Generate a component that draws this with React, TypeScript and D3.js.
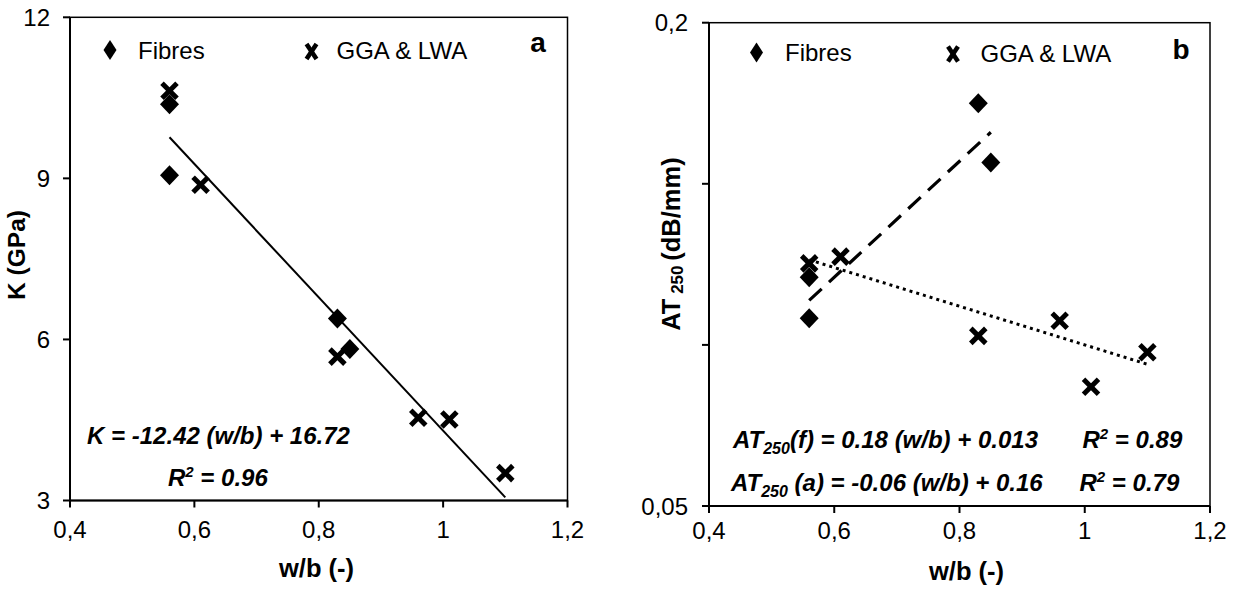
import React from "react";
import * as d3 from "d3";

// ---------- data ----------
const xTickValues = [0.4, 0.6, 0.8, 1.0, 1.2];
const xTickLabels = ["0,4", "0,6", "0,8", "1", "1,2"];

const kTickValues = [3, 6, 9, 12];
const kTickLabels = ["3", "6", "9", "12"];

const atTickValues = [0.05, 0.1, 0.15, 0.2];
const atTickLabels = ["0,05", "", "", "0,2"];

const fibresWB = [0.56, 0.56, 0.83, 0.85];
const fibresK = [10.38, 9.06, 6.39, 5.82];
const fibresAT = [0.121, 0.1083, 0.175, 0.1566];

const aggWB = [0.56, 0.61, 0.83, 0.96, 1.01, 1.1];
const aggK = [10.63, 8.88, 5.68, 4.54, 4.51, 3.51];
const aggAT = [0.1253, 0.1274, 0.1028, 0.1075, 0.087, 0.0977];

// trend lines as printed on the chart: [slope, intercept, xFrom, xTo]
const kTrend = [-12.42, 16.72, 0.56, 1.1];
const atFibresTrend = [0.18, 0.013, 0.56, 0.85];
const atAggTrend = [-0.06, 0.16, 0.56, 1.1];

const legendLabels = ["Fibres", "GGA & LWA"];

const FONT = "'Liberation Sans', Arial, Helvetica, sans-serif";

const Diamond = ({ cx, cy, w = 9.5, h = 10 }: any) => (
  <polygon
    points={`${cx},${cy - h} ${cx + w},${cy} ${cx},${cy + h} ${cx - w},${cy}`}
    fill="#000"
  />
);

const Cross = ({ cx, cy, w = 7.5, h = 7.5, sw = 5 }: any) => (
  <g stroke="#000" strokeWidth={sw} strokeLinecap="butt">
    <line x1={cx - w} y1={cy - h} x2={cx + w} y2={cy + h} />
    <line x1={cx - w} y1={cy + h} x2={cx + w} y2={cy - h} />
  </g>
);

function Frame({ x, y, xTicks, xLabels, yTicks, yLabels, xLabelY, yLabelX }: any) {
  const [x0, x1] = x.range();
  const [y0, y1] = y.range(); // y0 bottom, y1 top
  return (
    <g>
      <rect x={x0} y={y1} width={x1 - x0} height={y0 - y1} fill="none" stroke="#000" strokeWidth={1.5} />
      <line x1={x0} y1={y0} x2={x1} y2={y0} stroke="#000" strokeWidth={2} />
      <line x1={x0} y1={y0} x2={x0} y2={y1} stroke="#000" strokeWidth={2} />
      {xTicks.map((t: number, i: number) => (
        <g key={"x" + i}>
          <line x1={x(t)} x2={x(t)} y1={y0} y2={y0 + 7} stroke="#000" strokeWidth={2} />
          <text x={x(t)} y={xLabelY} textAnchor="middle" fontSize={24} fontFamily={FONT}>
            {xLabels[i]}
          </text>
        </g>
      ))}
      {yTicks.map((t: number, i: number) => (
        <g key={"y" + i}>
          <line x1={x0 - 7} x2={x0} y1={y(t)} y2={y(t)} stroke="#000" strokeWidth={2} />
          {yLabels[i] ? (
            <text x={yLabelX} y={y(t) + 8.5} textAnchor="end" fontSize={24} fontFamily={FONT}>
              {yLabels[i]}
            </text>
          ) : null}
        </g>
      ))}
    </g>
  );
}

export default function App() {
  // panel a scales
  const xa = d3.scaleLinear().domain([0.4, 1.2]).range([70, 567.5]);
  const ya = d3.scaleLinear().domain([3, 12]).range([500.5, 17.3]);
  // panel b scales
  const xb = d3.scaleLinear().domain([0.4, 1.2]).range([709, 1210]);
  const yb = d3.scaleLinear().domain([0.05, 0.2]).range([506, 22.7]);

  const trendPath = (xs: any, ys: any, t: number[]) => {
    const pts: [number, number][] = [
      [t[2], t[0] * t[2] + t[1]],
      [t[3], t[0] * t[3] + t[1]],
    ];
    return d3
      .line<[number, number]>()
      .x((d) => xs(d[0]))
      .y((d) => ys(d[1]))(pts) as string;
  };

  return (
    <svg
      width={1238}
      height={590}
      style={{ position: "absolute", left: 0, top: 0, background: "#fff" }}
      fontFamily={FONT}
    >
      <rect x={0} y={0} width={1238} height={590} fill="#fff" />

      {/* ---------------- Panel a ---------------- */}
      <Frame
        x={xa}
        y={ya}
        xTicks={xTickValues}
        xLabels={xTickLabels}
        yTicks={kTickValues}
        yLabels={kTickLabels}
        xLabelY={537.5}
        yLabelX={50}
      />
      <path d={trendPath(xa, ya, kTrend)} stroke="#000" strokeWidth={2} fill="none" />
      {fibresWB.map((v, i) => (
        <Diamond key={"fa" + i} cx={xa(v)} cy={ya(fibresK[i])} />
      ))}
      {aggWB.map((v, i) => (
        <Cross key={"ga" + i} cx={xa(v)} cy={ya(aggK[i])} />
      ))}
      {/* legend a */}
      <Diamond cx={110} cy={50} w={6.5} h={10} />
      <text x={138} y={58.5} fontSize={24} fontFamily={FONT}>{legendLabels[0]}</text>
      <Cross cx={311.5} cy={51.5} w={5} h={7.5} sw={4.5} />
      <text x={336.5} y={59} fontSize={24} fontFamily={FONT}>{legendLabels[1]}</text>
      <text x={538} y={52} textAnchor="middle" fontSize={28} fontWeight="bold" fontFamily={FONT}>a</text>
      {/* equation a */}
      <text x={218.5} y={444} textAnchor="middle" fontSize={24} fontWeight="bold" fontStyle="italic" fontFamily={FONT}>
        K = -12.42 (w/b) + 16.72
      </text>
      <text x={168} y={486} fontSize={24} fontWeight="bold" fontStyle="italic" fontFamily={FONT}>
        R<tspan fontSize={15} dy={-9}>2</tspan><tspan dy={9}> = 0.96</tspan>
      </text>
      {/* axis titles a */}
      <text x={316.5} y={577} textAnchor="middle" fontSize={25.5} fontWeight="bold" fontFamily={FONT}>w/b (-)</text>
      <text transform="translate(25,255) rotate(-90)" textAnchor="middle" fontSize={24.5} fontWeight="bold" fontFamily={FONT}>
        K (GPa)
      </text>

      {/* ---------------- Panel b ---------------- */}
      <Frame
        x={xb}
        y={yb}
        xTicks={xTickValues}
        xLabels={xTickLabels}
        yTicks={atTickValues}
        yLabels={atTickLabels}
        xLabelY={538.5}
        yLabelX={688}
      />
      <path
        d={trendPath(xb, yb, atFibresTrend)}
        stroke="#000"
        strokeWidth={3.2}
        strokeDasharray="17 10"
        fill="none"
      />
      <path
        d={trendPath(xb, yb, atAggTrend)}
        stroke="#000"
        strokeWidth={3}
        strokeDasharray="3 4"
        fill="none"
      />
      {fibresWB.map((v, i) => (
        <Diamond key={"fb" + i} cx={xb(v)} cy={yb(fibresAT[i])} />
      ))}
      {aggWB.map((v, i) => (
        <Cross key={"gb" + i} cx={xb(v)} cy={yb(aggAT[i])} />
      ))}
      {/* legend b */}
      <Diamond cx={756.5} cy={52.5} w={6.5} h={10} />
      <text x={785} y={61} fontSize={24} fontFamily={FONT}>{legendLabels[0]}</text>
      <Cross cx={953} cy={54} w={5} h={7.5} sw={4.5} />
      <text x={980.5} y={61.5} fontSize={24} fontFamily={FONT}>{legendLabels[1]}</text>
      <text x={1181} y={58.5} textAnchor="middle" fontSize={28} fontWeight="bold" fontFamily={FONT}>b</text>
      {/* equations b */}
      <text x={733} y={448} fontSize={24} fontWeight="bold" fontStyle="italic" fontFamily={FONT}>
        AT<tspan fontSize={16} dy={6}>250</tspan><tspan dy={-6}>(f)  = 0.18 (w/b) + 0.013</tspan>
      </text>
      <text x={1082.5} y={448} fontSize={24} fontWeight="bold" fontStyle="italic" fontFamily={FONT}>
        R<tspan fontSize={15} dy={-9}>2</tspan><tspan dy={9}> = 0.89</tspan>
      </text>
      <text x={731} y={491} fontSize={24} fontWeight="bold" fontStyle="italic" fontFamily={FONT}>
        AT<tspan fontSize={16} dy={6}>250</tspan><tspan dy={-6}> (a) = -0.06 (w/b) + 0.16</tspan>
      </text>
      <text x={1079.5} y={491} fontSize={24} fontWeight="bold" fontStyle="italic" fontFamily={FONT}>
        R<tspan fontSize={15} dy={-9}>2</tspan><tspan dy={9}> = 0.79</tspan>
      </text>
      {/* axis titles b */}
      <text x={966.5} y={580} textAnchor="middle" fontSize={25.5} fontWeight="bold" fontFamily={FONT}>w/b (-)</text>
      <text transform="translate(680,244) rotate(-90)" textAnchor="middle" fontSize={25.5} fontWeight="bold" fontFamily={FONT}>
        AT<tspan fontSize={17} dy={3}> 250 </tspan><tspan dy={-3}>(dB/mm)</tspan>
      </text>
    </svg>
  );
}
